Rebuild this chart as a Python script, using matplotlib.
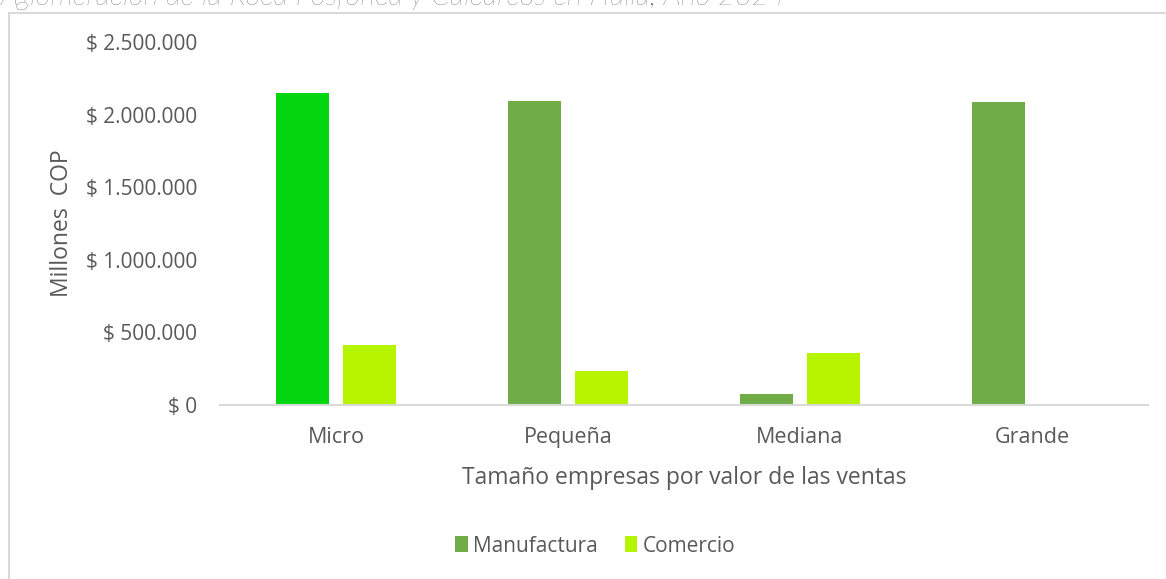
import matplotlib
matplotlib.use("Agg")
import matplotlib.pyplot as plt
from matplotlib.lines import Line2D
from matplotlib.patches import Patch
from matplotlib.ticker import FuncFormatter, MultipleLocator
import numpy as np

categories = ["Micro", "Pequeña", "Mediana", "Grande"]
manufactura = [2149000, 2094000, 76000, 2087000]
comercio = [413000, 234000, 358000, 0]
series_names = ["Manufactura", "Comercio"]

title = "Aglomeración de la Roca Fosfórica y Calcáreos en Huila, Año 2024"
ylabel = "Millones  COP"
xlabel = "Tamaño empresas por valor de las ventas"

C_MANU = "#70AD47"
C_MANU_MICRO = "#03D60E"
C_COM = "#B7F400"
TXT = "#595959"
FONT = "Open Sans"

plt.rcParams["font.family"] = [FONT, "DejaVu Sans"]

W, H = 1166, 579
fig = plt.figure(figsize=(W / 100, H / 100), dpi=100)
fig.patch.set_facecolor("white")

ax = fig.add_axes([220 / W, 1 - 405 / H, 928 / W, 363 / H])
x = np.arange(len(categories))
bw = 0.228
off = 0.143
manu_colors = [C_MANU_MICRO] + [C_MANU] * (len(categories) - 1)
ax.bar(x - off, manufactura, width=bw, color=manu_colors)
ax.bar(x + off, comercio, width=bw, color=C_COM)

ax.set_xlim(-0.5, len(categories) - 0.5)
ax.set_ylim(0, 2500000)
ax.yaxis.set_major_locator(MultipleLocator(500000))

def fmt(v, pos):
    s = f"{int(round(v)):,}".replace(",", ".")
    return f"$ {s}"

ax.yaxis.set_major_formatter(FuncFormatter(fmt))
ax.set_xticks(x)
ax.set_xticklabels(categories)
ax.tick_params(axis="both", length=0, labelcolor=TXT)
ax.tick_params(axis="y", pad=16.5, labelsize=15)
ax.tick_params(axis="x", pad=16, labelsize=15.5)
for s in ["top", "right", "left"]:
    ax.spines[s].set_visible(False)
ax.spines["bottom"].set_color("#D9D9D9")
ax.spines["bottom"].set_linewidth(1.5)

ax.set_xlabel(xlabel, fontsize=16.5, color=TXT, labelpad=13)
fig.text(62 / W, 1 - 223 / H, ylabel, rotation=90, fontsize=16.5, color=TXT,
         ha="center", va="center")

handles = [Patch(facecolor=C_MANU), Patch(facecolor=C_COM)]
fig.legend(handles, series_names, loc="center", bbox_to_anchor=(595 / W, 1 - 546 / H),
           ncol=2, frameon=False, fontsize=15, labelcolor=TXT,
           handlelength=0.6, handleheight=0.8, handletextpad=0.25, columnspacing=1.3)

# chart frame
fig.add_artist(Line2D([9 / W, 9 / W], [0, 1 - 13 / H], color="#D9D9D9", lw=1.5,
                      transform=fig.transFigure))
fig.add_artist(Line2D([9 / W, 1], [1 - 13 / H, 1 - 13 / H], color="#D9D9D9", lw=1.5,
                      transform=fig.transFigure))

# cropped title at top
fig.text(0, 1 - 5 / H, title, fontsize=21, style="italic", color="#404040",
         ha="left", va="baseline", fontfamily=["Lato", "DejaVu Sans"], fontweight="light")

fig.savefig("out.png", dpi=100)
